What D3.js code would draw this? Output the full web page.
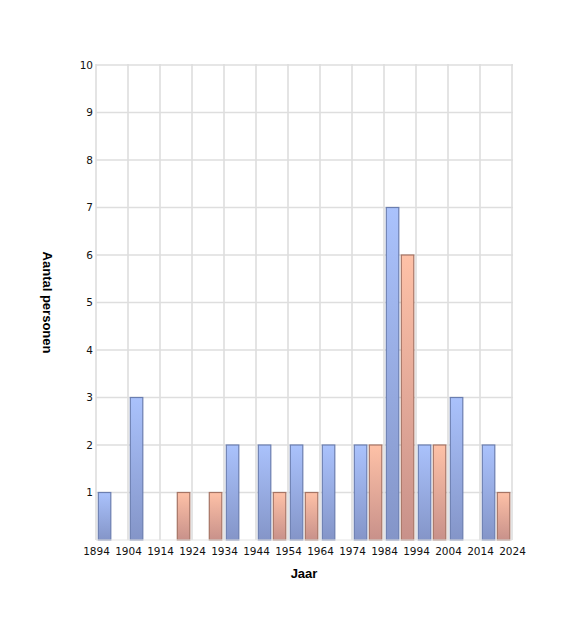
<!DOCTYPE html>
<html><head><meta charset="utf-8">
<script src="https://cdn.jsdelivr.net/npm/d3@7/dist/d3.min.js"></script>
<style>
body{margin:0;background:#fff;}
</style></head>
<body><svg id="c" width="576" height="628"></svg>
<script>
const decades = [1894,1904,1914,1924,1934,1944,1954,1964,1974,1984,1994,2004,2014];
const tickYears = [1894,1904,1914,1924,1934,1944,1954,1964,1974,1984,1994,2004,2014,2024];
const seriesBlue = [1,3,0,0,2,2,2,2,2,7,2,3,2];
const seriesOrange = [0,0,1,1,0,1,1,0,2,6,2,0,1];
const yTicks = [1,2,3,4,5,6,7,8,9,10];

const svg = d3.select("#c");
const L=96,R=512,T=65,B=540;
const x = d3.scaleLinear().domain([1894,2024]).range([L,R]);
const y = d3.scaleLinear().domain([0,10]).range([B,T]);

const defs = svg.append("defs");
function grad(id,c1,c2){
  const g=defs.append("linearGradient").attr("id",id).attr("x1",0).attr("y1",0).attr("x2",0).attr("y2",1);
  g.append("stop").attr("offset","0%").attr("stop-color",c1);
  g.append("stop").attr("offset","100%").attr("stop-color",c2);
}
grad("gb","#aac2fc","#8495c8");
grad("go","#fec1a7","#c8918a");

// grid
const g = svg.append("g");
g.selectAll("line.v").data(tickYears).enter().append("line")
  .attr("x1",d=>x(d)).attr("x2",d=>x(d)).attr("y1",T-1).attr("y2",B)
  .attr("stroke","#e4e4e4").attr("stroke-width",2);
g.selectAll("line.h").data(yTicks).enter().append("line")
  .attr("x1",L).attr("x2",R+1).attr("y1",d=>y(d)).attr("y2",d=>y(d))
  .attr("stroke","#dedede").attr("stroke-width",1.5);

// bars
const bw = 12.5;
function bars(data,off,fill,stroke){
  svg.append("g").selectAll("rect").data(decades.map((d,i)=>({d,v:data[i]})).filter(e=>e.v>0))
    .enter().append("rect")
    .attr("x",e=>x(e.d)+off).attr("y",e=>y(e.v)).attr("width",bw).attr("height",e=>y(0)-y(e.v))
    .attr("fill",fill).attr("stroke",stroke).attr("stroke-width",1.2);
}
bars(seriesBlue,2.3,"url(#gb)","#6b7eb0");
bars(seriesOrange,17.3,"url(#go)","#a67464");

svg.append("line").attr("x1",L).attr("x2",R).attr("y1",B).attr("y2",B).attr("stroke","#e4e4e4").attr("stroke-width",1);

const xa = d3.axisBottom(x).tickValues(tickYears).tickFormat(d3.format("d")).tickSize(0).tickPadding(6);
const gx = svg.append("g").attr("transform",`translate(0,${B})`).call(xa);
gx.select(".domain").remove();
gx.selectAll("text").style("font-size","10.5px").style("font-family","'DejaVu Sans', sans-serif").attr("fill","#111").attr("dy","0.71em").attr("y",8);

const ya = d3.axisLeft(y).tickValues(yTicks).tickFormat(d3.format("d")).tickSize(0).tickPadding(3);
const gy = svg.append("g").attr("transform",`translate(${L},0)`).call(ya);
gy.select(".domain").remove();
gy.selectAll("text").style("font-size","10.5px").style("font-family","'DejaVu Sans', sans-serif").attr("fill","#111");

svg.append("text").attr("x",(L+R)/2).attr("y",578).attr("text-anchor","middle")
  .style("font-size","13px").style("font-weight","bold").style("font-family","'Liberation Sans', Arial, sans-serif").text("Jaar");
svg.append("text").attr("transform",`translate(43,${(T+B)/2}) rotate(90)`).attr("text-anchor","middle")
  .style("font-size","13px").style("font-weight","bold").style("font-family","'Liberation Sans', Arial, sans-serif").text("Aantal personen");
</script></body></html>
